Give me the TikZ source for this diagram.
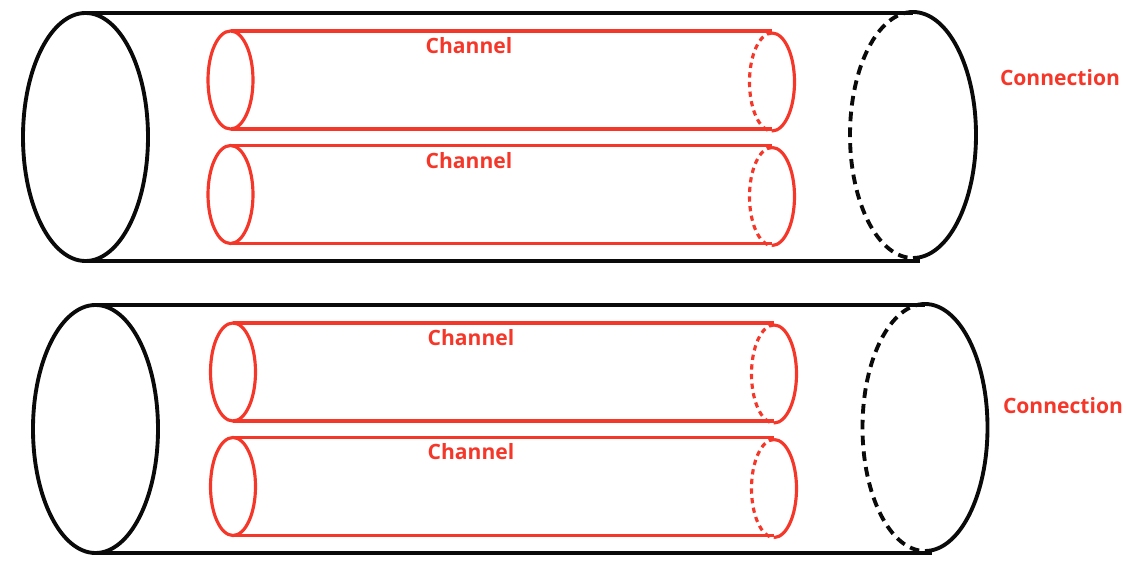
\documentclass[tikz,border=0pt]{standalone}
\usepackage{fontspec}
\setmainfont{Open Sans}
\usepackage{tikz}
\definecolor{chanred}{HTML}{F5372A}
\definecolor{pipeblack}{HTML}{0A0A0A}

\begin{document}
\begin{tikzpicture}[x=0.02cm,y=0.02cm,
    pipe/.style={pipeblack,line width=2.2pt},
    chan/.style={chanred,line width=1.8pt},
    lbl/.style={chanred,font=\bfseries\fontsize{12}{14}\selectfont,inner sep=0pt}]
  \useasboundingbox (0,0) rectangle (1126,-564);
  % upper connection
  \draw[pipe] (85.5,-137) ellipse[x radius=62.5,y radius=124];
  \draw[pipe] (82,-13) -- (913,-13);
  \draw[pipe] (82,-261) -- (920,-261);
  \draw[pipe] (913,-12) arc[start angle=90,end angle=-90,x radius=63,y radius=123];
  \draw[pipe,dash pattern=on 5.5pt off 3.5pt] (913,-12)
    arc[start angle=90,end angle=270,x radius=63,y radius=123];
  % lower connection
  \draw[pipe] (95.5,-429) ellipse[x radius=62.5,y radius=124];
  \draw[pipe] (92,-305) -- (925,-305);
  \draw[pipe] (92,-553) -- (932,-553);
  \draw[pipe] (925,-304) arc[start angle=90,end angle=-90,x radius=62.5,y radius=123.5];
  \draw[pipe,dash pattern=on 5.5pt off 3.5pt] (925,-304)
    arc[start angle=90,end angle=270,x radius=62.5,y radius=123.5];
  % channels
  \foreach \cx/\cy/\ex in {230.5/-80/772, 230.5/-194.5/772, 233/-372/774, 233/-486.5/774}{
    \draw[chan] (\cx,\cy) ellipse[x radius=22.5,y radius=49];
    \draw[chan] (\cx,\cy+49) -- (\ex,\cy+49);
    \draw[chan] (\cx,\cy-49) -- (\ex,\cy-49);
    \draw[chan] (\ex,\cy+47) arc[start angle=90,end angle=-90,x radius=22.5,y radius=49];
    \draw[chan,dash pattern=on 3pt off 2.5pt] (\ex,\cy+47)
      arc[start angle=90,end angle=270,x radius=22.5,y radius=49];
  }
  \node[lbl] (ch1) at (469,-46) {Channel};
  \node[lbl] (ch2) at (469,-161) {Channel};
  \node[lbl] (ch3) at (471,-338) {Channel};
  \node[lbl] (ch4) at (471,-452) {Channel};
  \node[lbl] (con1) at (1060,-78) {Connection};
  \node[lbl] (con2) at (1063,-406) {Connection};
\end{tikzpicture}
\end{document}
